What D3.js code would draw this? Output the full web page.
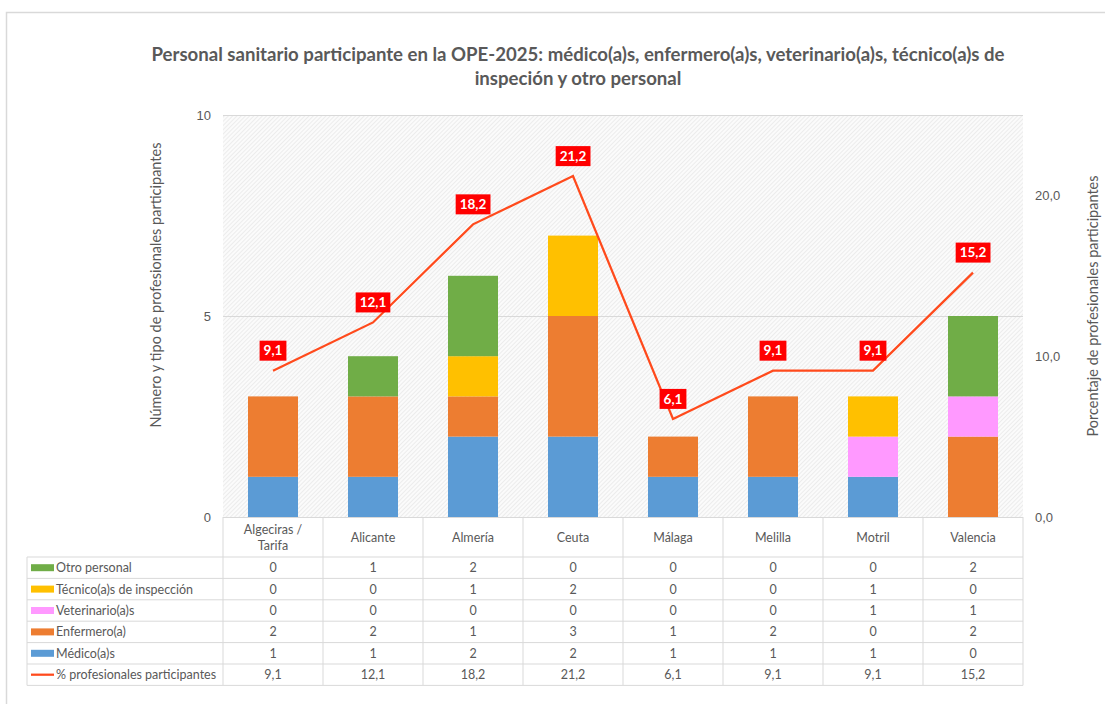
<!DOCTYPE html>
<html>
<head>
<meta charset="utf-8">
<script src="https://cdnjs.cloudflare.com/ajax/libs/d3/7.8.5/d3.min.js"></script>
<title>Personal sanitario OPE-2025</title>
<style>
	body { margin: 0; background: #fff; }
	svg { display: block; font-family: Lato, "Open Sans", sans-serif; }
	.txt { fill: #595959; }
</style>
</head>
<body>
<svg id="chart" width="1105" height="704"></svg>
<script>
// data
var cities = ['Algeciras / Tarifa', 'Alicante', 'Almería', 'Ceuta', 'Málaga', 'Melilla', 'Motril', 'Valencia'];
var medicos = [1, 1, 2, 2, 1, 1, 1, 0];
var enfermeros = [2, 2, 1, 3, 1, 2, 0, 2];
var veterinarios = [0, 0, 0, 0, 0, 0, 1, 1];
var tecnicos = [0, 0, 1, 2, 0, 0, 1, 0];
var otros = [0, 1, 2, 0, 0, 0, 0, 2];
var porcentaje = [9.1, 12.1, 18.2, 21.2, 6.1, 9.1, 9.1, 15.2];
var leftTicks = [0, 5, 10];
var rightTicks = [0, 10, 20];

var series = [
	{ name: 'Médico(a)s', values: medicos, color: '#5B9BD5' },
	{ name: 'Enfermero(a)', values: enfermeros, color: '#ED7D31' },
	{ name: 'Veterinario(a)s', values: veterinarios, color: '#FF99FF' },
	{ name: 'Técnico(a)s de inspección', values: tecnicos, color: '#FFC000' },
	{ name: 'Otro personal', values: otros, color: '#70AD47' }
];
var lineColor = '#FF4A1C';
var fmt = function( v ) { return v.toFixed( 1 ).replace( '.', ',' ); };

var svg = d3.select( '#chart' );
var plot = { left: 223, right: 1023, top: 115, bottom: 517 };

// outer chart frame
svg.append( 'path' )
	.attr( 'd', 'M6.5,704 V12.5 H1105' )
	.attr( 'fill', 'none' )
	.attr( 'stroke', '#d9d9d9' )
	.attr( 'stroke-width', 1.5 );

// hatch pattern for plot background
var defs = svg.append( 'defs' );
var pat = defs.append( 'pattern' )
	.attr( 'id', 'hatch' )
	.attr( 'patternUnits', 'userSpaceOnUse' )
	.attr( 'width', 3 )
	.attr( 'height', 3 )
	.attr( 'patternTransform', 'rotate(45)' );
pat.append( 'rect' ).attr( 'width', 3 ).attr( 'height', 3 ).attr( 'fill', '#fbfbfb' );
pat.append( 'line' ).attr( 'x1', 0 ).attr( 'y1', 0 ).attr( 'x2', 0 ).attr( 'y2', 3 )
	.attr( 'stroke', '#dedede' ).attr( 'stroke-width', 1 );

var x = d3.scaleBand()
	.domain( cities )
	.range( [plot.left, plot.right] )
	.paddingInner( 0.5 )
	.paddingOuter( 0.25 );
var xCenter = function( c ) { return x( c ) + x.bandwidth() / 2; };
var y = d3.scaleLinear().domain( [0, 10] ).range( [plot.bottom, plot.top] );
var y2 = d3.scaleLinear().domain( [0, 25] ).range( [plot.bottom, plot.top] );

svg.append( 'rect' )
	.attr( 'x', plot.left ).attr( 'y', plot.top )
	.attr( 'width', plot.right - plot.left ).attr( 'height', plot.bottom - plot.top )
	.attr( 'fill', 'url(#hatch)' );

// gridlines
svg.append( 'g' )
	.selectAll( 'line' )
	.data( leftTicks.slice( 1 ) )
	.enter().append( 'line' )
		.attr( 'x1', plot.left ).attr( 'x2', plot.right )
		.attr( 'y1', function( d ) { return Math.round( y( d ) ) + 0.5; } )
		.attr( 'y2', function( d ) { return Math.round( y( d ) ) + 0.5; } )
		.attr( 'stroke', '#d9d9d9' );

// left axis
var leftAxis = svg.append( 'g' )
	.attr( 'transform', 'translate(' + ( plot.left - 12 ) + ',0)' )
	.call( d3.axisLeft( y ).tickValues( leftTicks ).tickSize( 0 ).tickPadding( 0 ) );
leftAxis.select( '.domain' ).remove();
leftAxis.selectAll( 'text' ).attr( 'class', 'txt' ).style( 'font-size', '13px' ).style( 'font-family', null );

// right axis
var rightAxis = svg.append( 'g' )
	.attr( 'transform', 'translate(' + ( plot.right + 12 ) + ',0)' )
	.call( d3.axisRight( y2 ).tickValues( rightTicks ).tickFormat( fmt ).tickSize( 0 ).tickPadding( 0 ) );
rightAxis.select( '.domain' ).remove();
rightAxis.selectAll( 'text' ).attr( 'class', 'txt' ).style( 'font-size', '13px' ).style( 'font-family', null );

// axis titles
svg.append( 'text' )
	.attr( 'class', 'txt' )
	.attr( 'transform', 'translate(161,285) rotate(-90)' )
	.attr( 'text-anchor', 'middle' )
	.style( 'font-size', '14.5px' )
	.text( 'Número y tipo de profesionales participantes' );
svg.append( 'text' )
	.attr( 'class', 'txt' )
	.attr( 'transform', 'translate(1098,306) rotate(-90)' )
	.attr( 'text-anchor', 'middle' )
	.style( 'font-size', '14.5px' )
	.text( 'Porcentaje de profesionales participantes' );

// title
var title = svg.append( 'text' )
	.attr( 'class', 'txt' )
	.attr( 'text-anchor', 'middle' )
	.style( 'font-size', '18.6px' )
	.style( 'font-weight', 'bold' );
title.append( 'tspan' ).attr( 'x', 578 ).attr( 'y', 61 )
	.text( 'Personal sanitario participante en la OPE-2025: médico(a)s, enfermero(a)s, veterinario(a)s, técnico(a)s de' );
title.append( 'tspan' ).attr( 'x', 578 ).attr( 'y', 85 )
	.text( 'inspeción y otro personal' );

// stacked bars
var rows = cities.map( function( c, i ) {
	var r = { city: c };
	series.forEach( function( s ) { r[s.name] = s.values[i]; } );
	return r;
} );
var stack = d3.stack().keys( series.map( function( s ) { return s.name; } ) )( rows );
svg.append( 'g' )
	.selectAll( 'g' )
	.data( stack )
	.enter().append( 'g' )
		.attr( 'fill', function( d, i ) { return series[i].color; } )
	.selectAll( 'rect' )
	.data( function( d ) { return d; } )
	.enter().append( 'rect' )
		.attr( 'x', function( d ) { return x( d.data.city ); } )
		.attr( 'width', x.bandwidth() )
		.attr( 'y', function( d ) { return y( d[1] ); } )
		.attr( 'height', function( d ) { return y( d[0] ) - y( d[1] ); } );

// percentage line
var line = d3.line()
	.x( function( d, i ) { return xCenter( cities[i] ); } )
	.y( function( d ) { return y2( d ); } );
svg.append( 'path' )
	.datum( porcentaje )
	.attr( 'd', line )
	.attr( 'fill', 'none' )
	.attr( 'stroke', lineColor )
	.attr( 'stroke-width', 2.25 );

// data labels
var labels = svg.append( 'g' )
	.selectAll( 'g' )
	.data( porcentaje )
	.enter().append( 'g' )
		.attr( 'transform', function( d, i ) {
			return 'translate(' + xCenter( cities[i] ) + ',' + ( y2( d ) - 20 ) + ')';
		} );
labels.append( 'text' )
	.attr( 'text-anchor', 'middle' )
	.attr( 'dy', '0.35em' )
	.attr( 'fill', '#fff' )
	.style( 'font-size', '13.5px' )
	.style( 'font-weight', 'bold' )
	.text( fmt );
labels.insert( 'rect', 'text' )
	.attr( 'fill', '#FF0000' )
	.each( function() {
		var bb = this.parentNode.querySelector( 'text' ).getBBox();
		d3.select( this )
			.attr( 'x', bb.x - 4 ).attr( 'y', -10 )
			.attr( 'width', bb.width + 8 ).attr( 'height', 20 );
	} );

// data table
var tableLeft = 27;
var headerBottom = 557;
var rowH = 21.4;
var tableRows = series.slice().reverse().map( function( s ) {
	return { name: s.name, color: s.color, type: 'bar', cells: s.values.map( String ) };
} );
tableRows.push( { name: '% profesionales participantes', color: lineColor, type: 'line', cells: porcentaje.map( fmt ) } );
var tableBottom = headerBottom + rowH * tableRows.length;

var tbl = svg.append( 'g' ).attr( 'class', 'table' );
var gridColor = '#d9d9d9';
// vertical lines of category columns (header + body)
var colEdges = cities.map( function( c, i ) { return plot.left + i * ( plot.right - plot.left ) / cities.length; } );
colEdges.push( plot.right );
tbl.selectAll( 'line.v' )
	.data( colEdges )
	.enter().append( 'line' )
		.attr( 'x1', function( d ) { return d; } ).attr( 'x2', function( d ) { return d; } )
		.attr( 'y1', plot.bottom ).attr( 'y2', tableBottom )
		.attr( 'stroke', gridColor );
tbl.append( 'line' )
	.attr( 'x1', tableLeft ).attr( 'x2', tableLeft )
	.attr( 'y1', headerBottom ).attr( 'y2', tableBottom )
	.attr( 'stroke', gridColor );
tbl.append( 'line' )
	.attr( 'x1', plot.left ).attr( 'x2', plot.right )
	.attr( 'y1', plot.bottom + 0.5 ).attr( 'y2', plot.bottom + 0.5 )
	.attr( 'stroke', gridColor );
d3.range( tableRows.length + 1 ).forEach( function( i ) {
	var yy = headerBottom + i * rowH;
	tbl.append( 'line' )
		.attr( 'x1', tableLeft ).attr( 'x2', plot.right )
		.attr( 'y1', yy ).attr( 'y2', yy )
		.attr( 'stroke', gridColor );
} );

// header (category names)
cities.forEach( function( c ) {
	var parts = c.indexOf( ' / ' ) >= 0 ? [c.split( ' / ' )[0] + ' /', c.split( ' / ' )[1]] : [c];
	var t = tbl.append( 'text' )
		.attr( 'class', 'txt' )
		.attr( 'text-anchor', 'middle' )
		.style( 'font-size', '12.5px' );
	var cy = ( plot.bottom + headerBottom ) / 2;
	parts.forEach( function( p, k ) {
		t.append( 'tspan' )
			.attr( 'x', xCenter( c ) )
			.attr( 'y', cy + 4.5 + ( k - ( parts.length - 1 ) / 2 ) * 16 )
			.text( p );
	} );
} );

// body rows
tableRows.forEach( function( r, i ) {
	var cy = headerBottom + ( i + 0.5 ) * rowH;
	if ( r.type === 'bar' ) {
		tbl.append( 'rect' )
			.attr( 'x', tableLeft + 4 ).attr( 'y', cy - 3.5 )
			.attr( 'width', 23 ).attr( 'height', 7 )
			.attr( 'fill', r.color );
	} else {
		tbl.append( 'line' )
			.attr( 'x1', tableLeft + 4 ).attr( 'x2', tableLeft + 27 )
			.attr( 'y1', cy ).attr( 'y2', cy )
			.attr( 'stroke', r.color ).attr( 'stroke-width', 2.25 );
	}
	tbl.append( 'text' )
		.attr( 'class', 'txt' )
		.attr( 'x', tableLeft + 29 ).attr( 'y', cy + 4.5 )
		.style( 'font-size', '12.5px' )
		.text( r.name );
	r.cells.forEach( function( v, j ) {
		tbl.append( 'text' )
			.attr( 'class', 'txt' )
			.attr( 'x', xCenter( cities[j] ) ).attr( 'y', cy + 4.5 )
			.attr( 'text-anchor', 'middle' )
			.style( 'font-size', '12.5px' )
			.text( v );
	} );
} );
</script>
</body>
</html>
